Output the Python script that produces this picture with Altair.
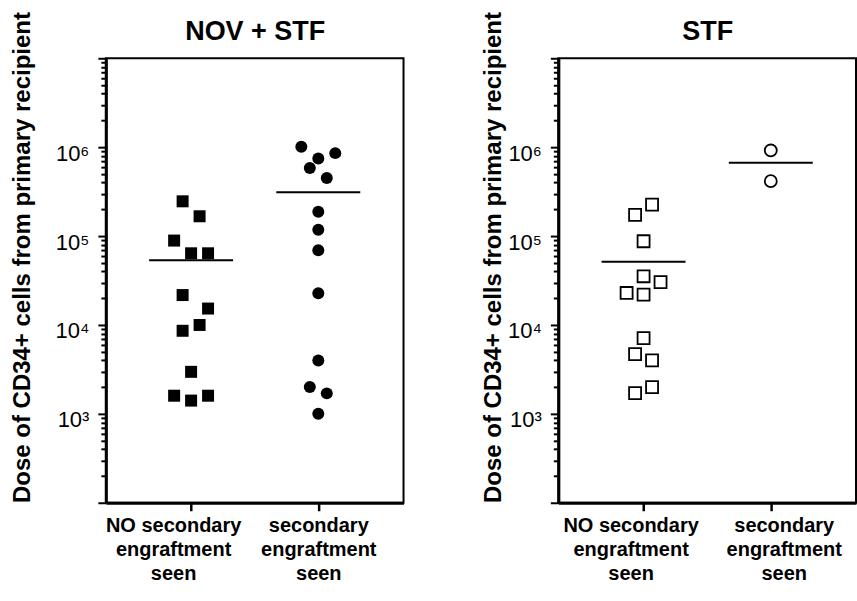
import altair as alt
import pandas as pd

# ---------------- data ----------------
cat_lines = [["NO secondary", "engraftment", "seen"], ["secondary", "engraftment", "seen"]]
panel_titles = ["NOV + STF", "STF"]
y_title = "Dose of CD34+ cells from primary recipient"

# NOV + STF panel
nov_no_values = [246000, 167000, 89000, 64000, 64000, 21700, 15300, 10000, 8600, 2970, 1600, 1600, 1410]
nov_no_slots = [-1, 1, -2, 0, 2, -1, 2, 1, -1, 0, -2, 2, 0]
nov_sec_values = [1010000, 857000, 745000, 582000, 449000, 188000, 118000, 69300, 22700, 3980, 2000, 1700, 1000]
nov_sec_slots = [-2, 2, 0, -1, 1, 0, 0, 0, 0, 0, -1, 1, 0]

# STF panel
stf_no_values = [226000, 173000, 87400, 35300, 30400, 22900, 21900, 7120, 4700, 3990, 2000, 1710]
stf_no_slots = [1, -1, 0, 0, 2, -2, 0, 0, -1, 1, 1, -1]
stf_sec_values = [918000, 414000]
stf_sec_slots = [0, 0]

# axis ticks
y_major = [10 ** k for k in range(2, 8)]
y_minor = [m * 10 ** k for k in range(2, 7) for m in range(2, 10)]
y_labels = {1000: "10³", 10000: "10⁴", 100000: "10⁵", 1000000: "10⁶"}

FONT = "Liberation Sans"

label_expr_y = " : ".join(
    [f"datum.value == {v} ? '{t}'" for v, t in y_labels.items()]
) + " : ''"


def list_js(lines):
    return "[" + ",".join(f"'{s}'" for s in lines) + "]"


label_expr_x = f"datum.value == 0 ? {list_js(cat_lines[0])} : {list_js(cat_lines[1])}"


def panel(title, no_vals, no_slots, sec_vals, sec_slots, filled, lab_off, sizes, title_pad):
    df = pd.DataFrame({
        "cat": [0] * len(no_vals) + [1] * len(sec_vals),
        "dose": no_vals + sec_vals,
        "slot": no_slots + sec_slots,
    })
    x_scale = alt.Scale(domain=[-0.67, 1.67], nice=False, zero=False)
    y_scale = alt.Scale(type="log", domain=[100, 10000000], nice=False)
    x_axis = alt.Axis(
        orient="bottom", values=[0, 1], labelExpr=label_expr_x, title=None, grid=False,
        labelFont=FONT, labelFontSize=20, labelFontWeight="bold", labelColor="black",
        labelLineHeight=24, labelPadding=5, labelFlush=False,
        labelOffset={"condition": {"test": "datum.value == 0", "value": lab_off[0]}, "value": lab_off[1]},
        tickSize=8, tickWidth=2.5, tickColor="black",
        domainWidth=3, domainColor="black",
    )
    # panel heading carried by a bare top axis
    x_top_axis = alt.Axis(
        orient="top", values=[0], labels=False, ticks=False, domain=False, grid=False,
        title=title, titleFont=FONT, titleFontSize=27, titleFontWeight="bold",
        titleColor="black", titlePadding=19, titleBaseline="alphabetic",
    )
    y_major_axis = alt.Axis(
        orient="left", values=y_major, labelExpr=label_expr_y, grid=False,
        labelFont=FONT, labelFontSize=22, labelColor="black", labelOverlap=False,
        labelFlush=False, labelPadding=9, labelBound=False,
        labelBaseline="middle", labelOffset=6,
        tickSize=8, tickWidth=2, tickColor="black", domainWidth=3, domainColor="black",
        title=y_title, titleFont=FONT, titleFontSize=24, titleFontWeight="bold",
        titleColor="black", titleY=199, titlePadding=title_pad,
    )
    y_minor_axis = alt.Axis(
        orient="left", values=y_minor, labels=False, grid=False, domain=False,
        tickSize=5, tickWidth=2, tickColor="black", title=None,
    )
    base = alt.Chart(df)
    points = base.transform_calculate(
        xpos="datum.cat + datum.slot * 0.0667"
    ).mark_point(
        filled=filled, color="black", opacity=1, strokeWidth=1.8
    ).encode(
        x=alt.X("xpos:Q", scale=x_scale, axis=x_axis),
        y=alt.Y("dose:Q", scale=y_scale, axis=y_major_axis),
        shape=alt.Shape("cat:N", scale=alt.Scale(domain=[0, 1], range=["square", "circle"]), legend=None),
        size=alt.Size("cat:N", scale=alt.Scale(domain=[0, 1], range=sizes), legend=None),
    )
    means = base.transform_aggregate(
        mean_dose="mean(dose)", groupby=["cat"]
    ).transform_calculate(
        x1="datum.cat - 0.33", x2="datum.cat + 0.33"
    ).mark_rule(color="black", strokeWidth=2).encode(
        x=alt.X("x1:Q", scale=x_scale, axis=x_top_axis),
        x2="x2:Q",
        y=alt.Y("mean_dose:Q", scale=y_scale, axis=y_minor_axis),
    )
    return alt.layer(points, means).resolve_axis(
        x="independent", y="independent"
    ).properties(width=298, height=445)


left = panel(panel_titles[0], nov_no_values, nov_no_slots, nov_sec_values, nov_sec_slots,
             True, (-18, 0), [144, 144], 21)
right = panel(panel_titles[1], stf_no_values, stf_no_slots, stf_sec_values, stf_sec_slots,
              False, (-13, 13), [110, 110], 2)

chart = alt.hconcat(left, right, spacing=76).properties(
    padding={"left": 9, "top": 10, "right": 0, "bottom": 0},
    background="white",
).configure_view(
    stroke="black", strokeWidth=2
)

chart.save("out.html", embed_options={"renderer": "svg", "actions": False})
